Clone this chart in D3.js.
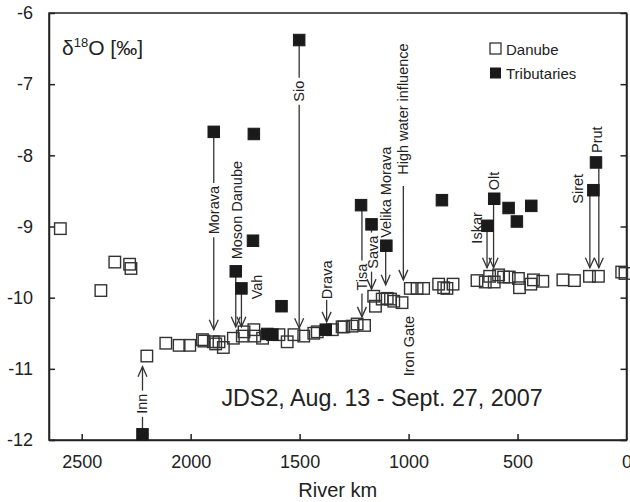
<!DOCTYPE html>
<html>
<head>
<meta charset="utf-8">
<script src="https://cdn.jsdelivr.net/npm/d3@7"></script>
<style>
  html, body { margin: 0; padding: 0; background: #fff; }
  svg { display: block; font-family: "Liberation Sans", Arial, Helvetica, sans-serif; }
</style>
</head>
<body>
<svg id="chart" width="630" height="502"></svg>
<script>
// ---------- data ----------
const danubeKm = [2598, 2412, 2348, 2280, 2274, 2201, 2114, 2053, 2004, 1946, 1939, 1896, 1885, 1870, 1850,
  1804, 1763, 1755, 1710, 1706, 1670, 1595, 1557, 1526, 1481, 1435, 1419, 1350, 1305, 1297, 1259, 1236, 1202,
  1160, 1152, 1121, 1098, 1083, 1068, 1030, 992, 961, 931, 862, 839, 824, 796,
  686, 648, 628, 607, 587, 564, 538, 496, 491, 439, 427, 384, 292, 239, 170, 129, 22, 7];
const danubeD18O = [-9.03, -9.90, -9.50, -9.53, -9.59, -10.82, -10.64, -10.67, -10.67, -10.59, -10.61, -10.62, -10.65, -10.62, -10.70,
  -10.57, -10.54, -10.48, -10.45, -10.54, -10.57, -10.52, -10.62, -10.52, -10.54, -10.50, -10.48, -10.45, -10.41, -10.41, -10.40, -10.37, -10.39,
  -9.98, -10.12, -10.02, -10.01, -10.02, -10.05, -10.07, -9.87, -9.87, -9.87, -9.81, -9.86, -9.87, -9.81,
  -9.76, -9.78, -9.70, -9.78, -9.68, -9.71, -9.71, -9.73, -9.86, -9.81, -9.75, -9.77, -9.75, -9.76, -9.70, -9.70, -9.64, -9.66];

const tribNames = ["Inn", "Morava", "", "", "Moson Danube", "Vah", "Sio", "", "", "", "Drava", "Tisa", "Sava",
  "Velika Morava", "", "Iskar", "Olt", "", "", "", "Siret", "Prut"];
const tribKm = [2221, 1894, 1710, 1714, 1793, 1767, 1502, 1583, 1648, 1625, 1380, 1218, 1170,
  1102, 847, 638, 607, 541, 503, 437, 152, 140];
const tribD18O = [-11.92, -7.67, -7.70, -9.20, -9.63, -9.87, -6.38, -10.12, -10.51, -10.52, -10.45, -8.70, -8.97,
  -9.27, -8.63, -8.99, -8.61, -8.74, -8.93, -8.71, -8.49, -8.10];

// annotations: line position (km), line start and arrow tip (‰), label centre (km, ‰)
const annoText    = ["Inn", "Morava", "Moson Danube", "Vah", "Sio", "Drava", "Tisa", "Sava", "Velika Morava",
  "High water influence", "Iron Gate", "Iskar", "Olt", "Siret", "Prut"];
const annoKm      = [2221, 1894, 1793, 1767, 1502, 1376, 1214, 1170, 1105, 1024, null, 640, 610, 168, 127];
const annoStart   = [-11.92, -7.67, -9.63, -9.87, -6.38, -10.03, -8.70, -8.97, -9.27, -8.43, null, -8.99, -8.61, -8.49, -8.10];
const annoTip     = [-10.97, -10.45, -10.41, -10.41, -10.43, -10.34, -10.27, -9.88, -9.82, -9.75, null, -9.58, -9.58, -9.58, -9.58];
const annoLabelKm = [2221, 1894, 1788, 1697, 1502, 1376, 1214, 1162, 1105, 1024, 996, 688, 608, 222, 135];
const annoLabelV  = [-11.49, -8.77, -8.77, -9.85, -7.10, -9.75, -9.71, -9.36, -8.52, -7.35, -10.68, -9.02, -8.36, -8.47, -7.78];
const annoBreaks  = [true, true, false, false, true, false, true, true, false, false, false, false, false, false, false];
// lines that leave a marker start at its edge
const annoFromMarker = [true, true, true, true, true, false, true, true, true, false, false, true, true, true, true];

const xTicks = [2500, 2000, 1500, 1000, 500, 0];
const yTicks = [-12, -11, -10, -9, -8, -7, -6];

// ---------- chart ----------
const svg = d3.select("#chart");
const L = 49, R = 626.5, T = 13, B = 440;
const x = d3.scaleLinear().domain([2650, 0]).range([L, R]);
const y = d3.scaleLinear().domain([-12, -6]).range([B, T]);
const ink = "#222";
const sq = 11.5;

// frame
svg.append("rect").attr("x", L).attr("y", T).attr("width", R - L).attr("height", B - T)
  .attr("fill", "none").attr("stroke", ink).attr("stroke-width", 1.5);

// axes
const xAxis = svg.append("g").attr("transform", `translate(0,${B})`)
  .call(d3.axisBottom(x).tickValues(xTicks).tickSizeInner(-6).tickSizeOuter(0).tickPadding(15).tickFormat(d => String(d)));
const yAxis = svg.append("g").attr("transform", `translate(${L},0)`)
  .call(d3.axisLeft(y).tickValues(yTicks).tickSizeInner(-6).tickSizeOuter(0).tickPadding(16).tickFormat(d => String(d)));
const yAxisR = svg.append("g").attr("transform", `translate(${R},0)`)
  .call(d3.axisRight(y).tickValues(yTicks).tickSizeInner(-6).tickSizeOuter(0).tickFormat(""));
[xAxis, yAxis, yAxisR].forEach(g => {
  g.select(".domain").attr("stroke", ink).attr("stroke-width", 1.5);
  g.selectAll(".tick line").attr("stroke", ink).attr("stroke-width", 1.5);
  g.selectAll(".tick text").attr("fill", "#222").style("font-size", "18px")
    .style("font-family", '"Liberation Sans", Arial, sans-serif');
});
xAxis.selectAll(".tick").filter(d => d === 0).select("line").remove();

// axis title
svg.append("text").attr("x", (L + R) / 2).attr("y", 497).attr("text-anchor", "middle")
  .style("font-size", "20px").attr("fill", "#222").text("River km");

// y label (inside)
const yl = svg.append("text").attr("x", 62).attr("y", 55).style("font-size", "21px").attr("fill", "#222");
yl.append("tspan").text("δ");
yl.append("tspan").attr("dy", -8).style("font-size", "13px").text("18");
yl.append("tspan").attr("dy", 8).text("O [‰]");

// campaign text
svg.append("text").attr("x", 382).attr("y", 406).attr("text-anchor", "middle")
  .style("font-size", "23.3px").attr("fill", "#222").text("JDS2, Aug. 13 - Sept. 27, 2007");

// annotations
const ag = svg.append("g").attr("stroke", "#333").attr("stroke-width", 1.3).attr("fill", "none");
annoText.forEach((t, i) => {
  const lx = x(annoLabelKm[i]), ly = y(annoLabelV[i]);
  const txt = svg.append("text")
    .attr("transform", `translate(${lx},${ly}) rotate(-90)`)
    .attr("text-anchor", "middle").attr("dominant-baseline", "central")
    .style("font-size", "14.5px").attr("fill", "#222").text(t);
  if (annoKm[i] === null) return;
  const px = x(annoKm[i]);
  let y0 = y(annoStart[i]);
  const y1 = y(annoTip[i]);
  const dir = y1 > y0 ? 1 : -1;
  if (annoFromMarker[i]) y0 += dir * sq / 2;
  if (annoBreaks[i]) {
    const half = txt.node().getComputedTextLength() / 2 + 3;
    const a = ly - half, b = ly + half;
    if (dir > 0) {
      ag.append("line").attr("x1", px).attr("x2", px).attr("y1", y0).attr("y2", a);
      ag.append("line").attr("x1", px).attr("x2", px).attr("y1", b).attr("y2", y1);
    } else {
      ag.append("line").attr("x1", px).attr("x2", px).attr("y1", y0).attr("y2", b);
      ag.append("line").attr("x1", px).attr("x2", px).attr("y1", a).attr("y2", y1);
    }
  } else {
    ag.append("line").attr("x1", px).attr("x2", px).attr("y1", y0).attr("y2", y1);
  }
  ag.append("path").attr("d", `M${px - 4.5},${y1 - dir * 10}L${px},${y1}L${px + 4.5},${y1 - dir * 10}`);
});

// Danube (open squares)
svg.append("g").selectAll("rect").data(danubeKm.map((k, i) => [k, danubeD18O[i]])).join("rect")
  .attr("x", d => x(d[0]) - sq / 2).attr("y", d => y(d[1]) - sq / 2)
  .attr("width", sq).attr("height", sq)
  .attr("fill", "none").attr("stroke", "#333").attr("stroke-width", 1.4);

// Tributaries (filled squares)
svg.append("g").selectAll("rect").data(tribKm.map((k, i) => [k, tribD18O[i]])).join("rect")
  .attr("x", d => x(d[0]) - sq / 2).attr("y", d => y(d[1]) - sq / 2)
  .attr("width", sq).attr("height", sq)
  .attr("fill", "#1a1a1a").attr("stroke", "#1a1a1a").attr("stroke-width", 1);

// legend
const lg = svg.append("g");
lg.append("rect").attr("x", 490).attr("y", 43).attr("width", 11).attr("height", 11)
  .attr("fill", "none").attr("stroke", "#333").attr("stroke-width", 1.3);
lg.append("rect").attr("x", 490).attr("y", 67.5).attr("width", 11).attr("height", 11)
  .attr("fill", "#1a1a1a");
lg.append("text").attr("x", 506).attr("y", 54.5).style("font-size", "15px").attr("fill", "#222").text("Danube");
lg.append("text").attr("x", 506).attr("y", 78.5).style("font-size", "15px").attr("fill", "#222").text("Tributaries");
</script>
</body>
</html>
